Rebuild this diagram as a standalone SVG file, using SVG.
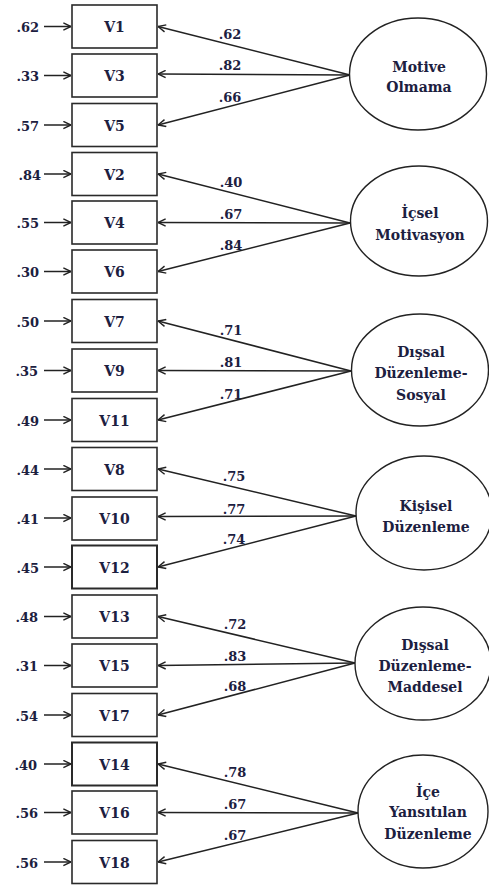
<svg xmlns="http://www.w3.org/2000/svg" width="489" height="889" viewBox="0 0 489 889">
<defs>
<style>
.box{fill:#fff;stroke:#2a2a2a;stroke-width:1.6}
.ell{fill:#fff;stroke:#222;stroke-width:1.4}
.ln{stroke:#222;stroke-width:1.5;fill:none;marker-end:url(#ah)}
.vt{font-family:"DejaVu Serif","Liberation Serif",serif;font-size:14px;font-weight:bold;fill:#1c2040;text-anchor:middle}
.nt{font-family:"DejaVu Serif","Liberation Serif",serif;font-size:13px;font-weight:bold;fill:#1c2040}
.lt{font-family:"DejaVu Serif","Liberation Serif",serif;font-size:13px;font-weight:bold;fill:#1c2040;text-anchor:middle}
.et{font-family:"DejaVu Serif","Liberation Serif",serif;font-size:14px;font-weight:bold;fill:#1c2040;text-anchor:middle}
</style>
<marker id="ah" viewBox="0 0 10 10" refX="9.5" refY="5" markerWidth="9" markerHeight="9" markerUnits="userSpaceOnUse" orient="auto">
<path d="M1,1 L9.5,5 L1,9" fill="none" stroke="#222" stroke-width="1.6"/>
</marker>
</defs>

<g id="connectors">
<line class="ln" x1="44" y1="26.5" x2="71" y2="26.5"/>
<line class="ln" x1="44" y1="75.5" x2="71" y2="75.5"/>
<line class="ln" x1="44" y1="125" x2="71" y2="125"/>
<line class="ln" x1="44" y1="174" x2="71" y2="174"/>
<line class="ln" x1="44" y1="222.5" x2="71" y2="222.5"/>
<line class="ln" x1="44" y1="271.5" x2="71" y2="271.5"/>
<line class="ln" x1="44" y1="321" x2="71" y2="321"/>
<line class="ln" x1="44" y1="370.5" x2="71" y2="370.5"/>
<line class="ln" x1="44" y1="420" x2="71" y2="420"/>
<line class="ln" x1="44" y1="469" x2="71" y2="469"/>
<line class="ln" x1="44" y1="518" x2="71" y2="518"/>
<line class="ln" x1="44" y1="567" x2="71" y2="567"/>
<line class="ln" x1="44" y1="616.5" x2="71" y2="616.5"/>
<line class="ln" x1="44" y1="665.5" x2="71" y2="665.5"/>
<line class="ln" x1="44" y1="715" x2="71" y2="715"/>
<line class="ln" x1="44" y1="764" x2="71" y2="764"/>
<line class="ln" x1="44" y1="812.5" x2="71" y2="812.5"/>
<line class="ln" x1="44" y1="862" x2="71" y2="862"/>
<line class="ln" x1="350" y1="75" x2="158" y2="26.5"/>
<line class="ln" x1="350" y1="75" x2="158" y2="74"/>
<line class="ln" x1="350" y1="75" x2="158" y2="125"/>
<line class="ln" x1="350" y1="223" x2="158" y2="174"/>
<line class="ln" x1="350" y1="223" x2="158" y2="222.5"/>
<line class="ln" x1="350" y1="223" x2="158" y2="271.5"/>
<line class="ln" x1="351" y1="371" x2="158" y2="321"/>
<line class="ln" x1="351" y1="371" x2="158" y2="370.5"/>
<line class="ln" x1="351" y1="371" x2="158" y2="420"/>
<line class="ln" x1="356" y1="516" x2="158" y2="469"/>
<line class="ln" x1="356" y1="516" x2="158" y2="516.5"/>
<line class="ln" x1="356" y1="516" x2="158" y2="567"/>
<line class="ln" x1="355" y1="663" x2="158" y2="616.5"/>
<line class="ln" x1="355" y1="663" x2="158" y2="665.5"/>
<line class="ln" x1="355" y1="663" x2="158" y2="715"/>
<line class="ln" x1="358" y1="813" x2="158" y2="764"/>
<line class="ln" x1="358" y1="813" x2="158" y2="812.5"/>
<line class="ln" x1="358" y1="813" x2="158" y2="862"/>
<text class="lt" x="230" y="39">.62</text>
<text class="lt" x="230" y="70">.82</text>
<text class="lt" x="230" y="102">.66</text>
<text class="lt" x="231" y="187">.40</text>
<text class="lt" x="231" y="219">.67</text>
<text class="lt" x="231" y="249.5">.84</text>
<text class="lt" x="231" y="335">.71</text>
<text class="lt" x="231" y="367">.81</text>
<text class="lt" x="231" y="399">.71</text>
<text class="lt" x="234" y="481">.75</text>
<text class="lt" x="234" y="513.5">.77</text>
<text class="lt" x="234" y="543.5">.74</text>
<text class="lt" x="235" y="628.5">.72</text>
<text class="lt" x="235" y="661">.83</text>
<text class="lt" x="235" y="690.5">.68</text>
<text class="lt" x="235" y="776.5">.78</text>
<text class="lt" x="235" y="808.5">.67</text>
<text class="lt" x="235" y="840">.67</text>
</g>

<g id="V1"><rect class="box" x="72" y="5" width="85" height="43"/><text class="vt" x="114.5" y="32">V1</text><text class="nt" x="39" y="32" text-anchor="end">.62</text></g>
<g id="V3"><rect class="box" x="72" y="54" width="85" height="43"/><text class="vt" x="114.5" y="81">V3</text><text class="nt" x="39" y="81" text-anchor="end">.33</text></g>
<g id="V5"><rect class="box" x="72" y="103.5" width="85" height="43"/><text class="vt" x="114.5" y="130.5">V5</text><text class="nt" x="39" y="130.5" text-anchor="end">.57</text></g>
<g id="V2"><rect class="box" x="72" y="152.5" width="85" height="43"/><text class="vt" x="114.5" y="179.5">V2</text><text class="nt" x="41" y="179.5" text-anchor="end">.84</text></g>
<g id="V4"><rect class="box" x="72" y="201" width="85" height="43"/><text class="vt" x="114.5" y="228">V4</text><text class="nt" x="39" y="228" text-anchor="end">.55</text></g>
<g id="V6"><rect class="box" x="72" y="250" width="85" height="43"/><text class="vt" x="114.5" y="277">V6</text><text class="nt" x="39" y="277" text-anchor="end">.30</text></g>
<g id="V7"><rect class="box" x="72" y="299.5" width="85" height="43"/><text class="vt" x="114.5" y="326.5">V7</text><text class="nt" x="39" y="326.5" text-anchor="end">.50</text></g>
<g id="V9"><rect class="box" x="72" y="349" width="85" height="43"/><text class="vt" x="114.5" y="376">V9</text><text class="nt" x="38" y="376" text-anchor="end">.35</text></g>
<g id="V11"><rect class="box" x="72" y="398.5" width="85" height="43"/><text class="vt" x="114.5" y="425.5">V11</text><text class="nt" x="39" y="425.5" text-anchor="end">.49</text></g>
<g id="V8"><rect class="box" x="72" y="447.5" width="85" height="43"/><text class="vt" x="114.5" y="474.5">V8</text><text class="nt" x="39" y="474.5" text-anchor="end">.44</text></g>
<g id="V10"><rect class="box" x="72" y="497" width="85" height="43"/><text class="vt" x="114.5" y="524">V10</text><text class="nt" x="39" y="524" text-anchor="end">.41</text></g>
<g id="V12"><rect class="box" x="72" y="545.5" width="85" height="43" style="stroke-width:2"/><text class="vt" x="114.5" y="572.5">V12</text><text class="nt" x="39" y="572.5" text-anchor="end">.45</text></g>
<g id="V13"><rect class="box" x="72" y="595" width="85" height="43"/><text class="vt" x="114.5" y="622">V13</text><text class="nt" x="38" y="622" text-anchor="end">.48</text></g>
<g id="V15"><rect class="box" x="72" y="644" width="85" height="43"/><text class="vt" x="114.5" y="671">V15</text><text class="nt" x="38" y="671" text-anchor="end">.31</text></g>
<g id="V17"><rect class="box" x="72" y="693.5" width="85" height="43"/><text class="vt" x="114.5" y="720.5">V17</text><text class="nt" x="38" y="720.5" text-anchor="end">.54</text></g>
<g id="V14"><rect class="box" x="72" y="742.5" width="85" height="43" style="stroke-width:2"/><text class="vt" x="114.5" y="769.5">V14</text><text class="nt" x="37" y="769.5" text-anchor="end">.40</text></g>
<g id="V16"><rect class="box" x="72" y="791" width="85" height="43"/><text class="vt" x="114.5" y="818">V16</text><text class="nt" x="38" y="818" text-anchor="end">.56</text></g>
<g id="V18"><rect class="box" x="72" y="840.5" width="85" height="43"/><text class="vt" x="114.5" y="867.5">V18</text><text class="nt" x="38" y="867.5" text-anchor="end">.56</text></g>

<g id="F1"><ellipse class="ell" cx="418" cy="74" rx="68.5" ry="56"/><text class="et" x="419" y="72">Motive</text><text class="et" x="419" y="92">Olmama</text></g>
<g id="F2"><ellipse class="ell" cx="419" cy="221" rx="68.5" ry="55"/><text class="et" x="420" y="218">İçsel</text><text class="et" x="420" y="240">Motivasyon</text></g>
<g id="F3"><ellipse class="ell" cx="420" cy="370" rx="68.5" ry="56"/><text class="et" x="421" y="357">Dışsal</text><text class="et" x="421" y="378">Düzenleme-</text><text class="et" x="421" y="400">Sosyal</text></g>
<g id="F4"><ellipse class="ell" cx="424" cy="513" rx="68" ry="57"/><text class="et" x="426" y="511">Kişisel</text><text class="et" x="426" y="532">Düzenleme</text></g>
<g id="F5"><ellipse class="ell" cx="423" cy="663.5" rx="68" ry="56.5"/><text class="et" x="425" y="650">Dışsal</text><text class="et" x="425" y="671">Düzenleme-</text><text class="et" x="425" y="692">Maddesel</text></g>
<g id="F6"><ellipse class="ell" cx="423" cy="811.5" rx="65" ry="56.5"/><text class="et" x="428" y="797">İçe</text><text class="et" x="428" y="817">Yansıtılan</text><text class="et" x="428" y="839">Düzenleme</text></g>
</svg>
